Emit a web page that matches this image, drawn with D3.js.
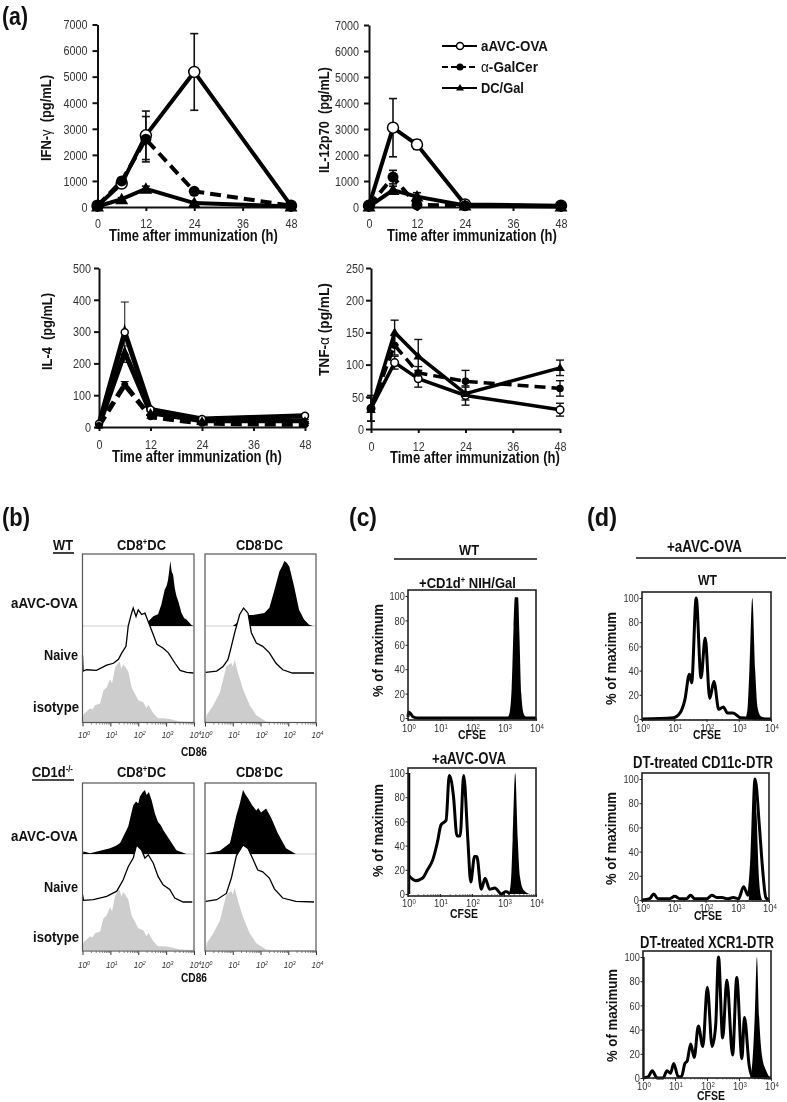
<!DOCTYPE html>
<html><head><meta charset="utf-8">
<script src="https://cdn.jsdelivr.net/npm/d3@7/dist/d3.min.js"></script>
<style>html,body{margin:0;padding:0;background:#fff}svg{display:block;filter:blur(0.35px)}text{font-family:"Liberation Sans",Arial,sans-serif;fill:#111}</style>
</head><body><svg id="c" width="787" height="1102"></svg>
<script>
// ---------- cytokine data (hours, pg/mL) ----------
const hours=[0,6,12,24,48];
const seriesNames=["aAVC-OVA","α-GalCer","DC/Gal"];
const ifnAvc=[50,900,2750,5180,50],ifnAvcErr=[0,100,930,1470,0];
const ifnGal=[50,1000,2600,600,50],ifnGalErr=[0,100,870,100,0];
const ifnDc=[20,300,700,150,20],ifnDcErr=[0,60,100,40,0];
const il12Avc=[50,3050,2400,100,50],il12AvcErr=[0,1120,180,20,10];
const il12Gal=[50,1150,80,50,40],il12GalErr=[0,260,40,10,10];
const il12Dc=[20,650,400,60,20],il12DcErr=[0,150,150,10,10];
const il4Avc=[10,298,55,25,35],il4AvcErr=[0,95,5,5,5];
const il4Gal=[5,133,32,12,8],il4GalErr=[0,10,5,3,3];
const il4Dc=[5,235,45,20,20],il4DcErr=[0,20,5,3,3];
const tnfAvc=[32,103,78,52,30],tnfAvcErr=[20,10,13,15,10];
const tnfGal=[32,130,87,74,63],tnfGalErr=[20,15,10,17,12];
const tnfDc=[30,150,113,55,95],tnfDcErr=[18,19,26,10,12];
const hourTicks=[0,12,24,36,48];
const ifnTicks=[0,1000,2000,3000,4000,5000,6000,7000];
const il4Ticks=[0,100,200,300,400,500];
const tnfTicks=[0,50,100,150,200,250];
const pctTicks=[0,20,40,60,80,100];
const decadeTicks=[0,1,2,3,4];
// ---------- histograms: [log10 intensity, % of max] ----------
const wtPosStim=[[1.17,0],[2.3,0],[2.36,7],[2.54,15],[2.71,18],[2.83,33],[2.95,56],[3.02,62],[3.07,71],[3.12,88],[3.15,100],[3.2,84],[3.25,79],[3.31,58],[3.37,46],[3.45,36],[3.55,20],[3.65,12],[3.73,10],[3.9,2],[3.98,0]];
const wtPosNaive=[[0,27],[0.02,3],[0.15,5],[0.5,4],[0.87,12],[1.11,15],[1.29,21],[1.41,31],[1.56,41],[1.64,72],[1.76,92],[1.82,100],[1.92,87],[2,97],[2.12,90],[2.24,92],[2.36,79],[2.52,61],[2.67,44],[2.9,38],[3.08,31],[3.32,15],[3.5,4],[3.74,1],[3.98,0]];
const posIso=[[0,0],[0.03,12],[0.27,22],[0.36,20],[0.45,27],[0.63,30],[0.75,51],[0.87,56],[0.99,69],[1.06,62],[1.17,88],[1.32,98],[1.4,86],[1.46,93],[1.55,88],[1.64,82],[1.76,56],[2,35],[2.18,32],[2.3,22],[2.36,28],[2.54,14],[2.71,6],[2.89,6],[3.13,5],[3.49,1],[3.96,0]];
const wtNegStim=[[1,0],[1.55,17],[1.73,17],[2.14,20],[2.32,28],[2.5,55],[2.68,84],[2.78,92],[2.86,100],[2.95,97],[3.04,91],[3.21,61],[3.39,25],[3.57,10],[3.75,2],[3.89,0]];
const wtNegNaive=[[0.02,1],[0.42,3],[0.65,10],[0.83,21],[0.95,41],[1.07,62],[1.25,90],[1.39,100],[1.55,92],[1.67,62],[1.85,46],[2.08,41],[2.32,31],[2.56,15],[2.8,5],[3.15,0],[3.93,0]];
const negIso=[[0.02,0],[0.06,11],[0.3,27],[0.54,48],[0.77,90],[0.95,95],[1,89],[1.07,100],[1.19,79],[1.37,53],[1.61,27],[1.85,11],[2.2,1],[2.4,0]];
const koPosStim=[[0,0],[0.04,4],[0.27,1],[0.63,5],[0.99,9],[1.2,13],[1.35,17],[1.64,43],[1.82,76],[1.92,82],[2,79],[2.06,90],[2.15,96],[2.24,100],[2.3,92],[2.38,97],[2.48,84],[2.6,63],[2.71,50],[2.81,45],[2.9,37],[3.13,22],[3.37,6],[3.73,0]];
const koPosNaive=[[0,13],[0.04,3],[0.39,4],[0.87,10],[1.23,19],[1.46,39],[1.64,62],[1.82,77],[1.94,100],[2.12,91],[2.24,77],[2.36,83],[2.54,68],[2.71,45],[2.89,30],[3.13,22],[3.31,7],[3.61,0],[3.94,0]];
const koNegStim=[[0.02,0],[0.06,1],[0.54,5],[0.9,17],[1.13,60],[1.25,78],[1.37,100],[1.47,92],[1.55,87],[1.7,76],[1.85,68],[1.92,72],[2.02,65],[2.2,71],[2.38,57],[2.62,33],[2.92,9],[3.27,0]];
const koNegNaive=[[0.02,1],[0.42,4],[0.77,15],[0.95,42],[1.13,81],[1.37,100],[1.55,94],[1.73,75],[1.9,56],[2.08,53],[2.32,42],[2.5,23],[2.8,7],[3.27,1],[3.93,0]];
const c1Fill=[[3.1,0],[3.18,5],[3.24,25],[3.3,75],[3.34,99],[3.44,99],[3.48,70],[3.54,20],[3.62,3],[3.72,0]];
const c1Line=[[0,1],[0.02,5],[0.1,3],[0.15,1],[0.3,0],[3.1,0],[3.7,0],[4,0]];
const c2Spike=[[0,0],[0,100],[0.07,100],[0.07,0]];
const c2Fill=[[3.15,0],[3.22,12],[3.27,45],[3.35,100],[3.43,45],[3.5,14],[3.62,3],[3.8,0]];
const c2Line=[[0.03,15],[0.24,11],[0.45,13],[0.61,20],[0.77,28],[0.92,43],[1.03,57],[1.19,61],[1.29,98],[1.42,81],[1.53,48],[1.63,48],[1.74,98],[1.87,45],[1.96,10],[2.08,31],[2.15,31],[2.29,4],[2.41,13],[2.55,4],[2.71,5],[2.92,0],[3.06,2],[3.19,0]];
const d1Fill=[[3.2,0],[3.27,8],[3.33,40],[3.42,100],[3.51,40],[3.58,10],[3.7,2],[3.95,0]];
const d1Line=[[0,0],[0.97,1],[1.18,5],[1.33,16],[1.47,37],[1.54,30],[1.68,100],[1.83,34],[1.96,67],[2.1,17],[2.23,31],[2.38,8],[2.52,10],[2.65,5],[2.82,5],[3.06,1],[4,0]];
const d2Fill=[[3.36,0],[3.43,25],[3.49,70],[3.55,100],[3.61,70],[3.67,25],[3.73,5],[3.79,0]];
const d2Line=[[0,0],[0.24,1],[0.37,5],[0.5,1],[0.87,1],[1.03,3],[1.19,1],[1.4,1],[1.53,4],[1.66,1],[2.04,1],[2.2,4],[2.36,2],[2.52,2],[2.68,1],[2.88,2],[3.04,1],[3.2,11],[3.34,4],[3.45,30],[3.56,100],[3.7,60],[3.8,25],[3.9,2],[4,0]];
const d3Spike=[[0,0],[0,100],[0.05,100],[0.05,0]];
const d3Fill=[[3.35,0],[3.42,14],[3.49,50],[3.56,100],[3.63,50],[3.72,18],[3.85,6],[3.97,0]];
const d3Line=[[0.02,0],[0.16,1],[0.29,6],[0.44,0],[0.63,0],[0.75,6],[0.86,4],[0.96,12],[1.1,1],[1.2,1],[1.31,12],[1.38,14],[1.49,28],[1.6,17],[1.73,43],[1.87,26],[2.01,75],[2.16,26],[2.27,43],[2.36,100],[2.49,33],[2.62,81],[2.8,19],[2.93,83],[3.09,16],[3.17,50],[3.32,10],[3.42,1],[4,0]];

const svg=d3.select("#c");
function T(x,y,html,o={}){
  const e=svg.append("text").attr("font-size",o.size||15).attr("font-weight",o.bold===false?"normal":"bold")
    .attr("font-style",o.italic?"italic":"normal").html(html);
  if(o.fill)e.style("fill",o.fill);
  const len=e.node().getComputedTextLength();
  const sx=o.w?o.w/len:(o.sx||1);
  e.attr("transform",`translate(${x},${y}) rotate(${o.rot||0}) scale(${sx},1)`);
  return e;
}
const sup=(a,s,b)=>`${a}<tspan dy="-5" font-size="9">${s}</tspan><tspan dy="5">${b}</tspan>`;
const hline=(x1,x2,y,w=1.6)=>svg.append("line").attr("x1",x1).attr("x2",x2).attr("y1",y).attr("y2",y).attr("stroke","#111").attr("stroke-width",w);

// ---------- (a) line charts ----------
function linePanel(p){
  const x=d3.scaleLinear().domain([0,48]).range([p.x0,p.x1]);
  const y=d3.scaleLinear().domain([0,p.ymax]).range([p.y0,p.y1]);
  const g=svg.append("g");
  const ax=g.append("g").attr("transform",`translate(0,${p.y0})`).call(d3.axisBottom(x).tickValues(hourTicks).tickSize(4).tickPadding(p.xpad).tickSizeOuter(0).tickFormat(d3.format("d")));
  const ay=g.append("g").attr("transform",`translate(${p.x0},0)`).call(d3.axisLeft(y).tickValues(p.ticks).tickSize(5).tickPadding(3).tickSizeOuter(0).tickFormat(d3.format("d")));
  [ax,ay].forEach(a=>{a.selectAll("path,line").attr("stroke","#111").attr("stroke-width",2);
    a.selectAll("text").attr("font-size",13.5).style("fill","#333").attr("transform","scale(0.8,1)");});
  ay.selectAll("text").attr("x",-p.ygap/0.8);
  ax.selectAll("g.tick").each(function(){const t=d3.select(this).select("text");t.attr("transform","scale(0.8,1)");});
  const styles=[{sh:"o"},{sh:"d",dash:"11 6"},{sh:"t"}];
  p.series.forEach(s=>{
    const pts=hours.map((h,k)=>({h,v:s.v[k],e:s.e[k]}));
    pts.filter(d=>d.e>0).forEach(d=>{
      const X=x(d.h);
      g.append("line").attr("x1",X).attr("x2",X).attr("y1",y(d.v+d.e)).attr("y2",y(Math.max(0,d.v-d.e))).attr("stroke","#111").attr("stroke-width",p.ew);
      [d.v+d.e,Math.max(0,d.v-d.e)].forEach(v=>g.append("line").attr("x1",X-4).attr("x2",X+4).attr("y1",y(v)).attr("y2",y(v)).attr("stroke","#111").attr("stroke-width",p.ew));
    });
  });
  p.series.forEach((s,i)=>{
    const pts=hours.map((h,k)=>[h,s.v[k]]);
    g.append("path").attr("d",d3.line().x(d=>x(d[0])).y(d=>y(d[1]))(pts)).attr("fill","none").attr("stroke","#000").attr("stroke-width",p.lw).attr("stroke-dasharray",styles[i].dash||null);
  });
  [0,2,1].forEach(i=>{
    const s=p.series[i];
    hours.forEach((h,k)=>marker(g,styles[i].sh,x(h),y(s.v[k]),p.r));
  });
}
function marker(g,sh,X,Y,r){
  if(sh==="o")g.append("circle").attr("cx",X).attr("cy",Y).attr("r",r).attr("fill","#fff").attr("stroke","#000").attr("stroke-width",1.5);
  else if(sh==="d")g.append("circle").attr("cx",X).attr("cy",Y).attr("r",r).attr("fill","#000");
  else g.append("path").attr("d",`M${X},${Y-r-1}L${X+r+1},${Y+r-0.5}L${X-r-1},${Y+r-0.5}Z`).attr("fill","#000");
}
linePanel({x0:97.5,x1:291,y0:207,y1:24.5,ymax:7000,ticks:ifnTicks,xpad:7,ygap:10,lw:4,r:5.5,ew:1.6,
  series:[{v:ifnAvc,e:ifnAvcErr},{v:ifnGal,e:ifnGalErr},{v:ifnDc,e:ifnDcErr}]});
linePanel({x0:369,x1:561,y0:207,y1:25,ymax:7000,ticks:ifnTicks,xpad:7,ygap:10,lw:4,r:5.5,ew:1.6,
  series:[{v:il12Avc,e:il12AvcErr},{v:il12Gal,e:il12GalErr},{v:il12Dc,e:il12DcErr}]});
linePanel({x0:99,x1:305,y0:427,y1:268,ymax:500,ticks:il4Ticks,xpad:8,ygap:8,lw:5,r:3.5,ew:1,
  series:[{v:il4Avc,e:il4AvcErr},{v:il4Gal,e:il4GalErr},{v:il4Dc,e:il4DcErr}]});
linePanel({x0:371,x1:560,y0:429,y1:268,ymax:250,ticks:tnfTicks,xpad:8,ygap:7,lw:3.5,r:3.8,ew:1.4,
  series:[{v:tnfAvc,e:tnfAvcErr},{v:tnfGal,e:tnfGalErr},{v:tnfDc,e:tnfDcErr}]});
T(2,25,"(a)",{size:25,w:26});
[[109,241,169],[387,241,170],[112,462,170],[390,463,170]].forEach(a=>T(a[0],a[1],"Time after immunization (h)",{size:16,w:a[2]}));
T(51,161,'IFN-<tspan font-weight="normal">γ</tspan>&#160; (pg/mL)',{size:14.5,w:86,rot:-90});
T(329,173,'IL-12p70&#160; (pg/mL)',{size:14.5,w:106,rot:-90});
T(52,370,'IL-4&#160; (pg/mL)',{size:14.5,w:77,rot:-90});
T(329,376,'TNF-<tspan font-weight="normal">α</tspan> (pg/mL)',{size:14.5,w:93,rot:-90});
// legend
const legendLayout=[{y:46,sh:"o",w:67,dash:null,r:3.5},{y:67,sh:"d",w:57,dash:"6 3",r:3.5},{y:88,sh:"t",w:43,dash:null,r:3}];
seriesNames.forEach((n,i)=>{
  const l=legendLayout[i];
  svg.append("line").attr("x1",442).attr("x2",477).attr("y1",l.y).attr("y2",l.y).attr("stroke","#000").attr("stroke-width",1.8).attr("stroke-dasharray",l.dash);
  marker(svg,l.sh,460,l.y,l.r);
  T(481,l.y+5,n.replace("α",'<tspan font-weight="normal">α</tspan>'),{size:15,w:l.w});
});

// ---------- log-axis helper ----------
function logAxes(p){
  const x=d3.scaleLinear().domain([0,4]).range([p.x0,p.x1]);
  const minor=[];decadeTicks.slice(0,4).forEach(d=>[2,3,4,5,6,7,8,9].forEach(m=>minor.push(d+Math.log10(m))));
  const g=svg.append("g").attr("transform",`translate(0,${p.base})`);
  const M=g.append("g").call(d3.axisBottom(x).tickValues(minor).tickSize(p.minor).tickFormat(""));
  M.select("path").remove();M.selectAll("line").attr("stroke","#333").attr("stroke-width",.6);
  const A=g.append("g").call(d3.axisBottom(x).tickValues(decadeTicks).tickSize(p.major).tickFormat(""));
  A.select("path").remove();A.selectAll("line").attr("stroke","#333").attr("stroke-width",1);
  decadeTicks.forEach(d=>T(x(d)-p.labOff,p.labY,`10<tspan dy="-3" font-size="${p.lab*0.65}">${d}</tspan>`,{size:p.lab,bold:false,italic:p.italic,sx:.85,fill:"#333"}));
  return x;
}
const area=(x,y,c)=>d3.area().x(d=>x(d[0])).y0(y(0)).y1(d=>y(d[1])).curve(c);
const line=(x,y,c)=>d3.line().x(d=>x(d[0])).y(d=>y(d[1])).curve(c);

// ---------- (b) CD86 overlays ----------
function bPanel(p){
  const x=logAxes({x0:p.x0,x1:p.x1,base:p.bottom,minor:2,major:4,labOff:4.5,labY:p.labY,lab:9.5,italic:true});
  const ys=d3.scaleLinear().domain([0,100]).range([p.b1,p.b1-p.h1]);
  const yn=d3.scaleLinear().domain([0,100]).range([p.b2,p.b2-p.h2]);
  const yi=d3.scaleLinear().domain([0,100]).range([p.b3,p.b3-p.h3]);
  svg.append("line").attr("x1",p.x0).attr("x2",p.x1).attr("y1",p.b1).attr("y2",p.b1).attr("stroke","#ccc").attr("stroke-width",1);
  svg.append("path").attr("d",area(x,ys,d3.curveLinear)(p.stim)).attr("fill","#000");
  svg.append("path").attr("d",area(x,yn,d3.curveLinear)(p.naive)).attr("fill","#fff");
  svg.append("path").attr("d",line(x,yn,d3.curveLinear)(p.naive)).attr("fill","none").attr("stroke","#000").attr("stroke-width",1.3);
  svg.append("path").attr("d",area(x,yi,d3.curveLinear)(p.iso)).attr("fill","#cdcdcd");
  svg.append("rect").attr("x",p.x0).attr("y",p.top).attr("width",p.x1-p.x0).attr("height",p.bottom-p.top).attr("fill","none").attr("stroke","#555").attr("stroke-width",1.2);
}
const wtRow={top:554,bottom:722.5,labY:738,b1:626,h1:65,b2:673,h2:65,b3:722,h3:62};
const koRow={top:783,bottom:951,labY:968,b1:854,h1:64,b2:902,h2:57,b3:950,h3:62};
bPanel({...wtRow,x0:82.5,x1:194,stim:wtPosStim,naive:wtPosNaive,iso:posIso});
bPanel({...wtRow,x0:205,x1:316,stim:wtNegStim,naive:wtNegNaive,iso:negIso});
bPanel({...koRow,x0:82.5,x1:194,stim:koPosStim,naive:koPosNaive,iso:posIso});
bPanel({...koRow,x0:205,x1:316,stim:koNegStim,naive:koNegNaive,iso:negIso});
T(2,526,"(b)",{size:25,w:28});
T(53,550,"WT",{size:15,w:20});hline(53,74,553);
T(32,777,sup("CD1d","-/-",""),{size:15,w:41});hline(32,74,780);
[550,777].forEach(y=>{
  T(117,y,sup("CD8","+","DC"),{size:15,w:49});
  T(236,y,sup("CD8","-","DC"),{size:15,w:47});
});
[[608,660,712],[841,892,942]].forEach(r=>{
  T(11,r[0],"aAVC-OVA",{size:15.5,w:67});
  T(44,r[1],"Naive",{size:15.5,w:34});
  T(33,r[2],"isotype",{size:15.5,w:46});
});
T(181,756,"CD86",{size:12,w:26});
T(181,982,"CD86",{size:12,w:26});

// ---------- (c),(d) CFSE ----------
function cfse(p){
  const x=logAxes({x0:p.x0,x1:p.x1,base:p.y0,minor:1.5,major:3,labOff:6,labY:p.labY,lab:11,italic:false});
  const y=d3.scaleLinear().domain([0,100]).range([p.y0,p.y100]);
  const A=svg.append("g").attr("transform",`translate(${p.x0},0)`).call(d3.axisLeft(y).tickValues(pctTicks).tickSize(2.5).tickPadding(1));
  A.select("path").remove();
  A.selectAll("line").attr("stroke","#222").attr("stroke-width",1);
  A.selectAll("text").attr("font-size",11.5).style("fill","#333").attr("transform","scale(0.8,1)").attr("x",-4);
  const c=d3.curveMonotoneX;
  if(p.spike)svg.append("path").attr("d",area(x,y,d3.curveLinear)(p.spike)).attr("fill","#000");
  svg.append("path").attr("d",area(x,y,c)(p.fill)).attr("fill","#000");
  svg.append("path").attr("d",line(x,y,c)(p.line)).attr("fill","none").attr("stroke","#000").attr("stroke-width",p.lw||3);
  svg.append("rect").attr("x",p.x0).attr("y",p.top).attr("width",p.x1-p.x0).attr("height",p.bottom-p.top).attr("fill","none").attr("stroke","#222").attr("stroke-width",1.6);
}
cfse({x0:408,x1:536,top:590,bottom:720,y0:718,y100:596,labY:732,fill:c1Fill,line:c1Line});
cfse({x0:408,x1:536,top:768,bottom:896,y0:894,y100:773,labY:907,fill:c2Fill,line:c2Line,spike:c2Spike});
cfse({x0:642,x1:771,top:592,bottom:720,y0:719,y100:598,labY:732,fill:d1Fill,line:d1Line});
cfse({x0:642,x1:769,top:773,bottom:901,y0:900,y100:779,labY:912,fill:d2Fill,line:d2Line});
cfse({x0:643,x1:771,top:951,bottom:1078,y0:1078,y100:957,labY:1090,fill:d3Fill,line:d3Line,spike:d3Spike});
T(349,526,"(c)",{size:25,w:28});
T(459,555,"WT",{size:15,w:20});hline(394,537,559);
T(419,588,sup("+CD1d","+"," NIH/Gal"),{size:15.5,w:97});
T(432,764,"+aAVC-OVA",{size:16,w:74});
T(587,526,"(d)",{size:25,w:30});
T(667,552,"+aAVC-OVA",{size:16,w:75});hline(636,786,558);
T(698,585,"WT",{size:15,w:19});
T(633,768,"DT-treated CD11c-DTR",{size:16,w:140});
T(640,948,"DT-treated XCR1-DTR",{size:16,w:134});
[[383,697],[383,877],[616,705],[616,885],[617,1062]].forEach(a=>T(a[0],a[1],"% of maximum",{size:15,w:93,rot:-90}));
[[458,739],[450,918],[693,739],[694,920],[697,1100]].forEach(a=>T(a[0],a[1],"CFSE",{size:13,w:28}));
</script></body></html>
